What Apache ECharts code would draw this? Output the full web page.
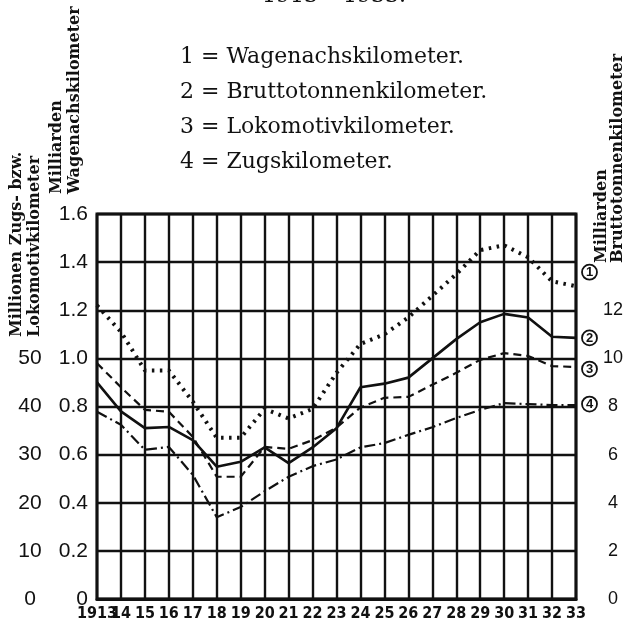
<!DOCTYPE html>
<html>
<head>
<meta charset="utf-8">
<script src="https://cdn.jsdelivr.net/npm/echarts@6/dist/echarts.min.js"></script>
<style>
  html, body { margin: 0; padding: 0; background: #fff; }
  #chart { width: 633px; height: 624px; }
</style>
</head>
<body>
<div id="chart"></div>
<script>
// Jahre 1913 - 1933
const years = ['1913', '14', '15', '16', '17', '18', '19', '20', '21', '22', '23',
  '24', '25', '26', '27', '28', '29', '30', '31', '32', '33']

// 1 = Wagenachskilometer (Milliarden)
const wagenachs = [1.22, 1.11, 0.95, 0.95, 0.82, 0.67, 0.67, 0.79, 0.75, 0.79, 0.94,
  1.06, 1.10, 1.17, 1.26, 1.35, 1.45, 1.47, 1.42, 1.32, 1.30]
// 2 = Bruttotonnenkilometer (Milliarden)
const brutto = [9.0, 7.8, 7.1, 7.15, 6.6, 5.5, 5.7, 6.3, 5.65, 6.3, 7.1,
  8.8, 8.95, 9.2, 10.0, 10.8, 11.5, 11.85, 11.7, 10.9, 10.85]
// 3 = Lokomotivkilometer (Millionen)
const loko = [49.0, 44.0, 39.3, 38.9, 33.7, 25.4, 25.4, 31.6, 31.2, 33.0, 35.6,
  39.8, 41.8, 42.0, 44.5, 47.0, 49.7, 51.1, 50.5, 48.4, 48.2]
// 4 = Zugskilometer (Millionen)
const zugs = [38.9, 36.2, 31.0, 31.6, 25.8, 17.0, 19.1, 22.4, 25.4, 27.6, 29.0,
  31.5, 32.4, 34.1, 35.7, 37.6, 39.3, 40.7, 40.5, 40.3, 40.3]

const legendLines = ['1 = Wagenachskilometer.', '2 = Bruttotonnenkilometer.',
  '3 = Lokomotivkilometer.', '4 = Zugskilometer.']

const ink = '#111'
const numFont = '"Liberation Sans", Arial, sans-serif'
const narrowFont = '"Liberation Sans Narrow", "DejaVu Sans Condensed", "Liberation Sans", sans-serif'
const serif = '"DejaVu Serif", "Liberation Serif", serif'

const chart = echarts.init(document.getElementById('chart'))

// eingekreiste Nummer am Kurvenende
const circled = (n, dy) => ({
  show: true,
  formatter: '{c|' + n + '}',
  distance: 6,
  offset: [0, dy],
  rich: {
    c: {
      width: 15, height: 15, lineHeight: 16, align: 'center',
      borderColor: ink, borderWidth: 1.8, borderRadius: 9,
      fontSize: 13, fontWeight: 'bold', fontFamily: numFont, color: ink
    }
  }
})

const vText = (text, x, y) => ({
  type: 'text', x, y, rotation: Math.PI / 2,
  style: {
    text, fill: ink, font: 'bold 16px ' + serif,
    textAlign: 'left', textVerticalAlign: 'middle'
  }
})

const option = {
  animation: false,
  backgroundColor: '#fff',
  grid: {
    left: 97, right: 57, top: 214, bottom: 25,
    show: true, borderColor: ink, borderWidth: 3
  },
  xAxis: {
    type: 'category',
    data: years,
    boundaryGap: false,
    axisLine: { lineStyle: { color: ink, width: 3 } },
    axisTick: { show: false },
    axisLabel: {
      interval: 0, margin: 7, color: ink,
      fontSize: 16, fontFamily: narrowFont, fontWeight: 'bold'
    },
    splitLine: { show: true, interval: 0, lineStyle: { color: ink, width: 2.4 } }
  },
  yAxis: [
    {
      // Milliarden Wagenachskilometer
      type: 'value', min: 0, max: 1.6, interval: 0.2,
      axisLine: { show: false }, axisTick: { show: false },
      splitLine: { show: true, lineStyle: { color: ink, width: 2.4 } },
      axisLabel: {
        margin: 9, color: ink, fontSize: 21, fontFamily: numFont,
        formatter: v => (v === 0 ? '0' : v.toFixed(1))
      }
    },
    {
      // Millionen Zugs- bzw. Lokomotivkilometer
      type: 'value', position: 'left', offset: 55, min: 0, max: 80, interval: 10,
      axisLine: { show: false }, axisTick: { show: false }, splitLine: { show: false },
      axisLabel: {
        margin: 12, align: 'center', color: ink, fontSize: 21, fontFamily: numFont,
        formatter: v => (v <= 50 ? String(v) : '')
      }
    },
    {
      // Milliarden Bruttotonnenkilometer
      type: 'value', position: 'right', min: 0, max: 16, interval: 2,
      axisLine: { show: false }, axisTick: { show: false }, splitLine: { show: false },
      axisLabel: {
        margin: 37, align: 'center', color: ink, fontSize: 18, fontFamily: numFont,
        formatter: v => (v <= 12 ? String(v) : '')
      }
    }
  ],
  series: [
    {
      name: 'Wagenachskilometer', type: 'line', yAxisIndex: 0, data: wagenachs,
      symbol: 'none',
      lineStyle: { color: ink, width: 4, type: [2.5, 5.5], cap: 'butt' },
      endLabel: circled(1, -14)
    },
    {
      name: 'Bruttotonnenkilometer', type: 'line', yAxisIndex: 2, data: brutto,
      symbol: 'none',
      lineStyle: { color: ink, width: 2.6 },
      endLabel: circled(2, 0)
    },
    {
      name: 'Lokomotivkilometer', type: 'line', yAxisIndex: 1, data: loko,
      symbol: 'none',
      lineStyle: { color: ink, width: 2.2, type: [8, 5] },
      endLabel: circled(3, 2)
    },
    {
      name: 'Zugskilometer', type: 'line', yAxisIndex: 1, data: zugs,
      symbol: 'none',
      lineStyle: { color: ink, width: 2.2, type: [11, 4, 2, 4] },
      endLabel: circled(4, -1)
    }
  ],
  graphic: [
    {
      type: 'text', x: 262, y: 7,
      style: { text: '1913 – 1933.', fill: ink, font: '22px ' + serif, textVerticalAlign: 'bottom' }
    },
    ...legendLines.map((t, i) => ({
      type: 'text', x: 180, y: 57 + i * 35,
      style: { text: t, fill: ink, font: '22px ' + serif, textVerticalAlign: 'middle' }
    })),
    vText('Millionen Zugs- bzw.', 17, 337),
    vText('Lokomotivkilometer', 35, 337),
    vText('Milliarden', 57, 194),
    vText('Wagenachskilometer', 75, 194),
    vText('Milliarden', 602, 263),
    vText('Bruttotonnenkilometer', 618, 263)
  ]
}

chart.setOption(option)
</script>
</body>
</html>
